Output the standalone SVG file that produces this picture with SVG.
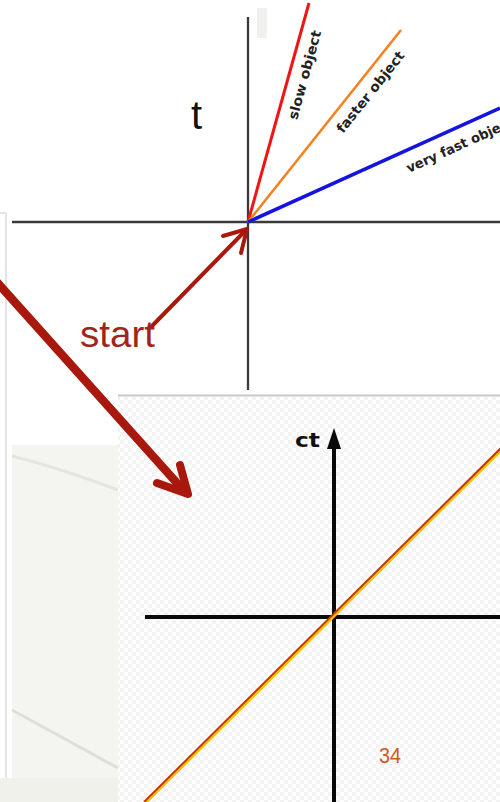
<svg xmlns="http://www.w3.org/2000/svg" width="500" height="802" viewBox="0 0 500 802">
<style>
.axis{stroke:#3a3a3a;stroke-width:2.3;fill:none}
.axisB{stroke:#0a0a0a;stroke-width:4;fill:none}
.lbl{font-family:"DejaVu Sans",sans-serif;font-weight:bold;font-size:13.5px;fill:#222}
.arrow{stroke:#a8180c;fill:none;stroke-linecap:round;stroke-linejoin:round}
</style>
<defs>
<pattern id="chk" width="8" height="8" patternUnits="userSpaceOnUse">
<rect width="8" height="8" fill="#ffffff"/>
<rect width="4" height="4" fill="#f3f3f3"/>
<rect x="4" y="4" width="4" height="4" fill="#f3f3f3"/>
</pattern>
</defs>
<rect width="500" height="802" fill="#ffffff"/>

<g id="left-panel">
<path d="M0,213 H6 V778" stroke="#dcdcdc" stroke-width="1.5" fill="none"/>
<rect x="12" y="445" width="106" height="333" fill="#f4f5f0"/>
<path d="M12,456 Q60,468 118,490" stroke="#e3e6dc" stroke-width="3" fill="none"/>
<path d="M12,710 L118,768" stroke="#dde0d5" stroke-width="3" fill="none"/>
<rect x="0" y="778" width="118" height="24" fill="#eff1ea"/>
</g>

<g id="top-diagram">
<rect x="257" y="8" width="10" height="30" fill="#f0f0ec"/>
<line class="axis" x1="12" y1="222" x2="500" y2="222"/>
<line class="axis" x1="248" y1="17" x2="248" y2="390"/>
<line x1="248" y1="222" x2="309" y2="3" stroke="#f01414" stroke-width="3"/>
<line x1="248" y1="222" x2="401" y2="30" stroke="#f5821f" stroke-width="2.6"/>
<line x1="248" y1="222" x2="500" y2="108" stroke="#1414e0" stroke-width="3.5"/>
<text x="191" y="129" font-family="Liberation Sans, Arial, sans-serif" font-size="40" fill="#111">t</text>
<text class="lbl" transform="translate(297,120.5) rotate(-74.7)" textLength="92" lengthAdjust="spacingAndGlyphs">slow object</text>
<text class="lbl" transform="translate(343,134) rotate(-51.5)" textLength="100" lengthAdjust="spacingAndGlyphs">faster object</text>
<text class="lbl" transform="translate(409,173) rotate(-24.3)" textLength="116" lengthAdjust="spacingAndGlyphs">very fast object</text>
</g>

<g id="bottom-diagram">
<rect x="118" y="397" width="382" height="405" fill="url(#chk)"/>
<line x1="118" y1="395.5" x2="500" y2="395.5" stroke="#c8c8c8" stroke-width="2"/>
<line class="axisB" x1="145" y1="617" x2="500" y2="617"/>
<line class="axisB" x1="334" y1="445" x2="334" y2="802"/>
<path d="M334,428 L341,449 L327,449 Z" fill="#0a0a0a"/>
<text x="295" y="447" font-family="DejaVu Sans, sans-serif" font-weight="bold" font-size="20" fill="#111" textLength="25" lengthAdjust="spacingAndGlyphs">ct</text>
<line x1="145" y1="803" x2="502" y2="449" stroke="#f2c200" stroke-width="3.5"/>
<line x1="144" y1="802" x2="501" y2="448" stroke="#c43a0c" stroke-width="2"/>
<text x="379" y="763" font-family="Liberation Sans, Arial, sans-serif" font-size="22" fill="#d0581c" textLength="22" lengthAdjust="spacingAndGlyphs">34</text>
</g>

<g id="start-label">
<text x="80" y="347" font-family="Liberation Sans, Arial, sans-serif" font-size="36" fill="#a0241a" textLength="75" lengthAdjust="spacingAndGlyphs">start</text>
</g>

<g id="connectors">
<path class="arrow" stroke-width="4" d="M152,326 L246,230"/>
<path class="arrow" stroke-width="4" d="M223,236 L247,229 L241,253"/>
<path class="arrow" stroke-width="8.5" d="M-6,279 L185,492"/>
<path class="arrow" stroke-width="8" d="M180,465 L188,494 L157,483"/>
</g>
</svg>
